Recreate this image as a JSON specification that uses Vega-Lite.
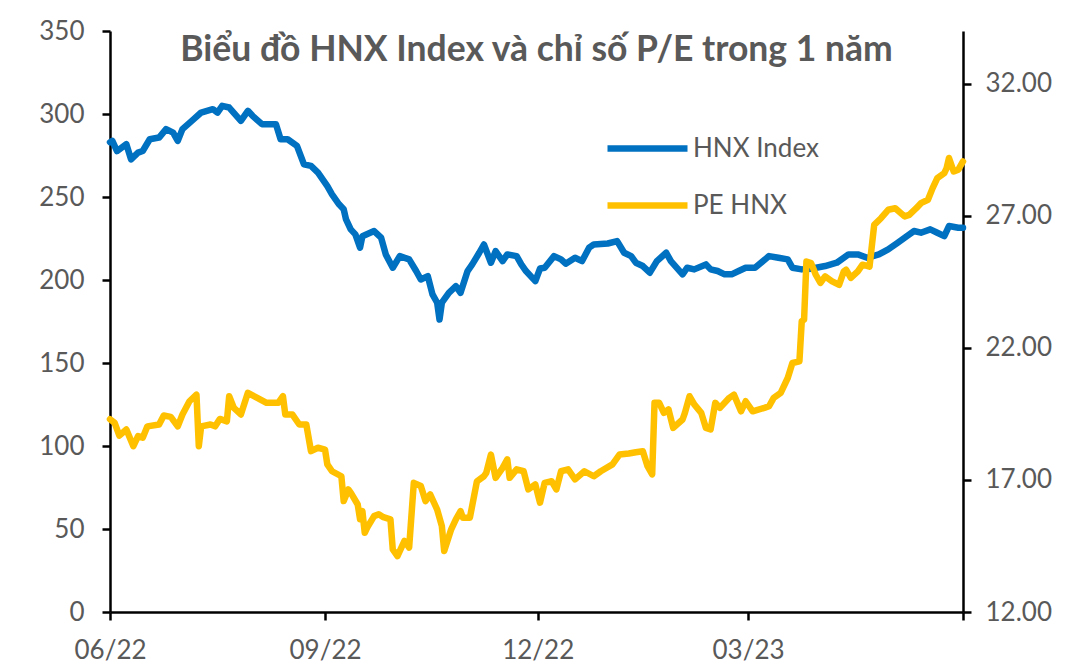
{
  "$schema": "https://vega.github.io/schema/vega-lite/v6.json",
  "width": 853,
  "height": 581,
  "autosize": {"type": "none"},
  "padding": {"left": 110, "top": 31, "right": 113, "bottom": 55},
  "background": "white",
  "config": {"view": {"stroke": null}, "font": "Lato"},
  "title": {
    "text": "Biểu đồ HNX Index và chỉ số P/E trong 1 năm",
    "font": "Lato",
    "fontSize": 35.5,
    "fontWeight": "bold",
    "color": "#595959",
    "anchor": "middle",
    "frame": "group",
    "baseline": "top",
    "offset": -50
  },
  "datasets": {
    "hnx": [
      {"date": "2022-06-07", "v": 283}, {"date": "2022-06-08", "v": 283.8}, {"date": "2022-06-10", "v": 277.7},
      {"date": "2022-06-14", "v": 281.8}, {"date": "2022-06-16", "v": 272.7}, {"date": "2022-06-19", "v": 276.7},
      {"date": "2022-06-21", "v": 277.7}, {"date": "2022-06-24", "v": 284.8}, {"date": "2022-06-28", "v": 285.8},
      {"date": "2022-07-01", "v": 290.9}, {"date": "2022-07-04", "v": 288.8}, {"date": "2022-07-06", "v": 283.8},
      {"date": "2022-07-08", "v": 290.9}, {"date": "2022-07-12", "v": 295.9}, {"date": "2022-07-16", "v": 300.9},
      {"date": "2022-07-21", "v": 302.9}, {"date": "2022-07-23", "v": 300.9}, {"date": "2022-07-25", "v": 304.9},
      {"date": "2022-07-28", "v": 303.9}, {"date": "2022-08-02", "v": 295.9}, {"date": "2022-08-05", "v": 301.9},
      {"date": "2022-08-07", "v": 298.9}, {"date": "2022-08-11", "v": 293.9}, {"date": "2022-08-17", "v": 293.9},
      {"date": "2022-08-19", "v": 284.8}, {"date": "2022-08-22", "v": 284.8}, {"date": "2022-08-26", "v": 280.8},
      {"date": "2022-08-29", "v": 269.7}, {"date": "2022-09-01", "v": 268.7}, {"date": "2022-09-04", "v": 264.7},
      {"date": "2022-09-08", "v": 256.6}, {"date": "2022-09-10", "v": 251.6}, {"date": "2022-09-13", "v": 245.6},
      {"date": "2022-09-15", "v": 242.6}, {"date": "2022-09-16", "v": 236.5}, {"date": "2022-09-18", "v": 230.5},
      {"date": "2022-09-20", "v": 227.5}, {"date": "2022-09-22", "v": 219.5}, {"date": "2022-09-23", "v": 226.4},
      {"date": "2022-09-28", "v": 229.5}, {"date": "2022-10-01", "v": 225.5}, {"date": "2022-10-03", "v": 215.4},
      {"date": "2022-10-06", "v": 207.4}, {"date": "2022-10-09", "v": 214.4}, {"date": "2022-10-13", "v": 212.4},
      {"date": "2022-10-16", "v": 205.4}, {"date": "2022-10-18", "v": 200.3}, {"date": "2022-10-21", "v": 202.3},
      {"date": "2022-10-23", "v": 191.3}, {"date": "2022-10-25", "v": 186.3}, {"date": "2022-10-26", "v": 176.2},
      {"date": "2022-10-27", "v": 186.3}, {"date": "2022-10-30", "v": 192.3}, {"date": "2022-11-02", "v": 196.3},
      {"date": "2022-11-04", "v": 192.3}, {"date": "2022-11-07", "v": 205.4}, {"date": "2022-11-09", "v": 209.4},
      {"date": "2022-11-12", "v": 216.4}, {"date": "2022-11-14", "v": 221.4}, {"date": "2022-11-17", "v": 210.4},
      {"date": "2022-11-19", "v": 217.4}, {"date": "2022-11-22", "v": 211.4}, {"date": "2022-11-24", "v": 215.4},
      {"date": "2022-11-28", "v": 214.4}, {"date": "2022-11-30", "v": 209.4}, {"date": "2022-12-02", "v": 205.4},
      {"date": "2022-12-06", "v": 199.3}, {"date": "2022-12-08", "v": 206.9}, {"date": "2022-12-10", "v": 207.4},
      {"date": "2022-12-14", "v": 214.4}, {"date": "2022-12-17", "v": 212.4}, {"date": "2022-12-19", "v": 209.8},
      {"date": "2022-12-23", "v": 213.4}, {"date": "2022-12-26", "v": 211.4}, {"date": "2022-12-29", "v": 219.5},
      {"date": "2022-12-31", "v": 221.4}, {"date": "2023-01-06", "v": 222}, {"date": "2023-01-10", "v": 223.4},
      {"date": "2023-01-13", "v": 216.4}, {"date": "2023-01-16", "v": 214.4}, {"date": "2023-01-18", "v": 210.4},
      {"date": "2023-01-21", "v": 208.4}, {"date": "2023-01-24", "v": 204.4}, {"date": "2023-01-27", "v": 211.4},
      {"date": "2023-01-31", "v": 216.4}, {"date": "2023-02-02", "v": 211.4}, {"date": "2023-02-07", "v": 203.4},
      {"date": "2023-02-09", "v": 207.4}, {"date": "2023-02-12", "v": 206.4}, {"date": "2023-02-17", "v": 209.4},
      {"date": "2023-02-19", "v": 206.4}, {"date": "2023-02-22", "v": 205.4}, {"date": "2023-02-25", "v": 203.4},
      {"date": "2023-02-28", "v": 203.4}, {"date": "2023-03-03", "v": 205.4}, {"date": "2023-03-06", "v": 207.4},
      {"date": "2023-03-10", "v": 207.4}, {"date": "2023-03-16", "v": 214.4}, {"date": "2023-03-20", "v": 213.4},
      {"date": "2023-03-24", "v": 212.4}, {"date": "2023-03-26", "v": 207.4}, {"date": "2023-03-30", "v": 206.4},
      {"date": "2023-04-03", "v": 206.8}, {"date": "2023-04-09", "v": 208.4}, {"date": "2023-04-14", "v": 210.4},
      {"date": "2023-04-19", "v": 215.4}, {"date": "2023-04-23", "v": 215.4}, {"date": "2023-04-27", "v": 213.4},
      {"date": "2023-05-02", "v": 215.4}, {"date": "2023-05-06", "v": 218.4}, {"date": "2023-05-10", "v": 222.4},
      {"date": "2023-05-14", "v": 226.4}, {"date": "2023-05-17", "v": 229.5}, {"date": "2023-05-20", "v": 228.5},
      {"date": "2023-05-24", "v": 230.5}, {"date": "2023-05-27", "v": 228.5}, {"date": "2023-05-30", "v": 226.4},
      {"date": "2023-06-01", "v": 232.5}, {"date": "2023-06-05", "v": 231.5}, {"date": "2023-06-07", "v": 231.5}
    ],
    "pe": [
      {"date": "2022-06-07", "pe": 19.3}, {"date": "2022-06-09", "pe": 19.16}, {"date": "2022-06-11", "pe": 18.68},
      {"date": "2022-06-14", "pe": 18.91}, {"date": "2022-06-17", "pe": 18.28}, {"date": "2022-06-19", "pe": 18.66},
      {"date": "2022-06-21", "pe": 18.6}, {"date": "2022-06-23", "pe": 19.03}, {"date": "2022-06-28", "pe": 19.1},
      {"date": "2022-06-30", "pe": 19.44}, {"date": "2022-07-03", "pe": 19.39}, {"date": "2022-07-06", "pe": 19.03},
      {"date": "2022-07-08", "pe": 19.48}, {"date": "2022-07-11", "pe": 19.98}, {"date": "2022-07-14", "pe": 20.23},
      {"date": "2022-07-15", "pe": 18.28}, {"date": "2022-07-16", "pe": 19.03}, {"date": "2022-07-20", "pe": 19.1},
      {"date": "2022-07-22", "pe": 19.03}, {"date": "2022-07-24", "pe": 19.31}, {"date": "2022-07-27", "pe": 19.22},
      {"date": "2022-07-28", "pe": 20.17}, {"date": "2022-07-30", "pe": 19.73}, {"date": "2022-08-02", "pe": 19.48},
      {"date": "2022-08-05", "pe": 20.3}, {"date": "2022-08-09", "pe": 20.11}, {"date": "2022-08-13", "pe": 19.92},
      {"date": "2022-08-18", "pe": 19.92}, {"date": "2022-08-20", "pe": 20.17}, {"date": "2022-08-21", "pe": 19.48},
      {"date": "2022-08-24", "pe": 19.48}, {"date": "2022-08-27", "pe": 19.1}, {"date": "2022-08-30", "pe": 19.1},
      {"date": "2022-09-01", "pe": 18.09}, {"date": "2022-09-04", "pe": 18.22}, {"date": "2022-09-07", "pe": 18.15},
      {"date": "2022-09-08", "pe": 17.59}, {"date": "2022-09-10", "pe": 17.33}, {"date": "2022-09-14", "pe": 17.14},
      {"date": "2022-09-15", "pe": 16.2}, {"date": "2022-09-17", "pe": 16.64}, {"date": "2022-09-18", "pe": 16.52},
      {"date": "2022-09-21", "pe": 16.07}, {"date": "2022-09-22", "pe": 15.51}, {"date": "2022-09-23", "pe": 15.82},
      {"date": "2022-09-24", "pe": 15.0}, {"date": "2022-09-25", "pe": 15.19}, {"date": "2022-09-28", "pe": 15.63},
      {"date": "2022-09-30", "pe": 15.7}, {"date": "2022-10-02", "pe": 15.59}, {"date": "2022-10-05", "pe": 15.51},
      {"date": "2022-10-06", "pe": 14.37}, {"date": "2022-10-08", "pe": 14.12}, {"date": "2022-10-11", "pe": 14.69},
      {"date": "2022-10-13", "pe": 14.44}, {"date": "2022-10-15", "pe": 16.89}, {"date": "2022-10-18", "pe": 16.77},
      {"date": "2022-10-20", "pe": 16.2}, {"date": "2022-10-22", "pe": 16.45}, {"date": "2022-10-25", "pe": 15.88},
      {"date": "2022-10-27", "pe": 15.25}, {"date": "2022-10-28", "pe": 14.31}, {"date": "2022-10-31", "pe": 15.13},
      {"date": "2022-11-02", "pe": 15.51}, {"date": "2022-11-04", "pe": 15.82}, {"date": "2022-11-05", "pe": 15.57},
      {"date": "2022-11-08", "pe": 15.57}, {"date": "2022-11-11", "pe": 16.95}, {"date": "2022-11-14", "pe": 17.14},
      {"date": "2022-11-15", "pe": 17.27}, {"date": "2022-11-17", "pe": 17.96}, {"date": "2022-11-19", "pe": 17.08},
      {"date": "2022-11-22", "pe": 17.46}, {"date": "2022-11-24", "pe": 17.78}, {"date": "2022-11-25", "pe": 17.08},
      {"date": "2022-11-28", "pe": 17.4}, {"date": "2022-12-01", "pe": 17.33}, {"date": "2022-12-03", "pe": 16.64},
      {"date": "2022-12-06", "pe": 16.83}, {"date": "2022-12-08", "pe": 16.14}, {"date": "2022-12-10", "pe": 16.89},
      {"date": "2022-12-13", "pe": 16.95}, {"date": "2022-12-15", "pe": 16.64}, {"date": "2022-12-17", "pe": 17.33},
      {"date": "2022-12-20", "pe": 17.4}, {"date": "2022-12-23", "pe": 17.02}, {"date": "2022-12-27", "pe": 17.33},
      {"date": "2022-12-31", "pe": 17.14}, {"date": "2023-01-03", "pe": 17.33}, {"date": "2023-01-08", "pe": 17.59},
      {"date": "2023-01-11", "pe": 17.96}, {"date": "2023-01-15", "pe": 18.0}, {"date": "2023-01-18", "pe": 18.05},
      {"date": "2023-01-21", "pe": 18.09}, {"date": "2023-01-23", "pe": 17.52}, {"date": "2023-01-25", "pe": 17.21},
      {"date": "2023-01-26", "pe": 19.92}, {"date": "2023-01-28", "pe": 19.92}, {"date": "2023-01-30", "pe": 19.54},
      {"date": "2023-02-01", "pe": 19.67}, {"date": "2023-02-03", "pe": 18.97}, {"date": "2023-02-07", "pe": 19.29},
      {"date": "2023-02-08", "pe": 19.54}, {"date": "2023-02-10", "pe": 20.17}, {"date": "2023-02-12", "pe": 19.86},
      {"date": "2023-02-15", "pe": 19.54}, {"date": "2023-02-17", "pe": 18.97}, {"date": "2023-02-19", "pe": 18.91},
      {"date": "2023-02-21", "pe": 19.92}, {"date": "2023-02-23", "pe": 19.73}, {"date": "2023-02-27", "pe": 20.11},
      {"date": "2023-03-01", "pe": 20.23}, {"date": "2023-03-04", "pe": 19.6}, {"date": "2023-03-06", "pe": 19.98},
      {"date": "2023-03-09", "pe": 19.6}, {"date": "2023-03-14", "pe": 19.73}, {"date": "2023-03-16", "pe": 19.79},
      {"date": "2023-03-18", "pe": 20.11}, {"date": "2023-03-21", "pe": 20.3}, {"date": "2023-03-24", "pe": 20.86},
      {"date": "2023-03-26", "pe": 21.43}, {"date": "2023-03-29", "pe": 21.49}, {"date": "2023-03-30", "pe": 23.01},
      {"date": "2023-03-31", "pe": 23.07}, {"date": "2023-04-01", "pe": 25.27}, {"date": "2023-04-03", "pe": 25.21},
      {"date": "2023-04-05", "pe": 24.77}, {"date": "2023-04-07", "pe": 24.46}, {"date": "2023-04-09", "pe": 24.71},
      {"date": "2023-04-12", "pe": 24.52}, {"date": "2023-04-15", "pe": 24.39}, {"date": "2023-04-17", "pe": 24.9},
      {"date": "2023-04-18", "pe": 24.96}, {"date": "2023-04-20", "pe": 24.65}, {"date": "2023-04-23", "pe": 24.9},
      {"date": "2023-04-25", "pe": 25.15}, {"date": "2023-04-28", "pe": 25.08}, {"date": "2023-04-30", "pe": 26.66},
      {"date": "2023-05-03", "pe": 26.92}, {"date": "2023-05-06", "pe": 27.23}, {"date": "2023-05-09", "pe": 27.29},
      {"date": "2023-05-13", "pe": 26.98}, {"date": "2023-05-15", "pe": 27.04}, {"date": "2023-05-18", "pe": 27.29},
      {"date": "2023-05-20", "pe": 27.48}, {"date": "2023-05-23", "pe": 27.61}, {"date": "2023-05-25", "pe": 28.05},
      {"date": "2023-05-27", "pe": 28.43}, {"date": "2023-05-30", "pe": 28.62}, {"date": "2023-05-31", "pe": 28.81},
      {"date": "2023-06-01", "pe": 29.19}, {"date": "2023-06-03", "pe": 28.68}, {"date": "2023-06-05", "pe": 28.75},
      {"date": "2023-06-07", "pe": 29.06}
    ]
  },
  "layer": [
    {
      "data": {"name": "hnx"},
      "mark": {"type": "line", "strokeWidth": 6.5, "strokeJoin": "round", "strokeCap": "round"},
      "encoding": {
        "x": {
          "field": "date",
          "type": "temporal",
          "scale": {
            "type": "utc",
            "domain": [
              {"year": 2022, "month": 6, "date": 7, "utc": true},
              {"year": 2023, "month": 6, "date": 7, "utc": true}
            ],
            "nice": false
          },
          "axis": {
            "title": null,
            "grid": false,
            "values": [
              {"year": 2022, "month": 6, "date": 7, "utc": true},
              {"year": 2022, "month": 9, "date": 7, "utc": true},
              {"year": 2022, "month": 12, "date": 7, "utc": true},
              {"year": 2023, "month": 3, "date": 7, "utc": true},
              {"year": 2023, "month": 6, "date": 7, "utc": true}
            ],
            "labelExpr": "datum.value > 1684000000000 ? '' : utcFormat(datum.value, '%m/%y')",
            "labelFlush": false,
            "labelOverlap": false,
            "labelBound": false,
            "labelFont": "Lato",
            "labelFontSize": 26,
            "labelColor": "#595959",
            "labelPadding": 17,
            "domainColor": "black",
            "domainWidth": 2.5,
            "tickColor": "black",
            "tickWidth": 2.5,
            "tickSize": 8
          }
        },
        "y": {
          "field": "v",
          "type": "quantitative",
          "scale": {"domain": [0, 350], "nice": false},
          "axis": {
            "orient": "left",
            "title": null,
            "grid": false,
            "values": [0, 50, 100, 150, 200, 250, 300, 350],
            "labelFlush": false,
            "labelOverlap": false,
            "labelFont": "Lato",
            "labelFontSize": 26,
            "labelColor": "#595959",
            "labelPadding": 18,
            "domainColor": "black",
            "domainWidth": 2.5,
            "tickColor": "black",
            "tickWidth": 2.5,
            "tickSize": 8
          }
        },
        "color": {
          "datum": "HNX Index",
          "type": "nominal",
          "scale": {"domain": ["HNX Index", "PE HNX"], "range": ["#0070C0", "#FFC000"]},
          "legend": {
            "orient": "none",
            "legendX": 494,
            "legendY": 74,
            "title": null,
            "symbolType": "stroke",
            "symbolSize": 6400,
            "symbolStrokeWidth": 6.5,
            "labelFont": "Lato",
            "labelFontSize": 26,
            "labelColor": "#595959",
            "labelOffset": 2,
            "rowPadding": -25
          }
        }
      }
    },
    {
      "data": {"name": "pe"},
      "mark": {"type": "line", "strokeWidth": 6.5, "strokeJoin": "round", "strokeCap": "round"},
      "encoding": {
        "x": {"field": "date", "type": "temporal"},
        "y": {
          "field": "pe",
          "type": "quantitative",
          "scale": {"domain": [12, 34], "nice": false, "zero": false},
          "axis": {
            "orient": "right",
            "title": null,
            "grid": false,
            "values": [12, 17, 22, 27, 32],
            "format": ".2f",
            "labelFlush": false,
            "labelOverlap": false,
            "labelFont": "Lato",
            "labelFontSize": 26,
            "labelColor": "#595959",
            "labelPadding": 14,
            "domainColor": "black",
            "domainWidth": 2.5,
            "tickColor": "black",
            "tickWidth": 2.5,
            "tickSize": 8
          }
        },
        "color": {"datum": "PE HNX", "type": "nominal"}
      }
    }
  ],
  "resolve": {"scale": {"y": "independent"}}
}
